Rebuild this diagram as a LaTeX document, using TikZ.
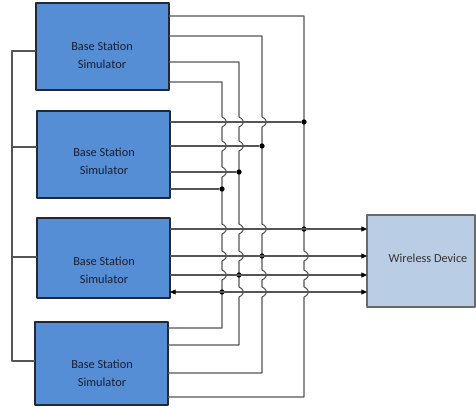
\documentclass[tikz,border=0pt]{standalone}
\usepackage{fontspec}
\setmainfont{Carlito}
\usetikzlibrary{arrows.meta}
\definecolor{bssblue}{RGB}{85,142,213}
\definecolor{bssline}{RGB}{35,40,55}
\definecolor{devblue}{RGB}{185,205,229}
\definecolor{devline}{RGB}{105,105,105}
\definecolor{wiregray}{RGB}{85,85,85}
\definecolor{txtnavy}{RGB}{25,30,50}
\tikzset{
  bss/.style={draw=bssline,fill=bssblue,line width=0.7pt,minimum width=2.66cm,inner sep=0pt,outer sep=0pt},
  dev/.style={draw=devline,fill=devblue,line width=0.7pt,minimum width=2.16cm,minimum height=1.84cm,inner sep=0pt,outer sep=0pt},
  lbl/.style={align=center,font=\fontsize{7}{10.2}\selectfont,text=txtnavy},
  wire/.style={draw=wiregray,line width=0.6pt},
  dot/.style={circle,fill=black,inner sep=0pt,minimum size=3pt},
}

\begin{document}
\begin{tikzpicture}[line join=round,>={Triangle[length=3.2pt,width=2.8pt,color=black]},x=0.02cm,y=-0.02cm]
\useasboundingbox (0,0) rectangle (476,408);
% the four simulators
\node[bss,minimum height=1.74cm] (bs1) at (102.5,46.5) {};
\node[bss,minimum height=1.74cm] (bs2) at (103.5,154.5) {};
\node[bss,minimum height=1.60cm] (bs3) at (103.5,258) {};
\node[bss,minimum height=1.66cm] (bs4) at (101.5,363.5) {};
\node[lbl] (t1) at (102,55) {Base Station\\Simulator};
\node[lbl] (t2) at (104,161) {Base Station\\Simulator};
\node[lbl] (t3) at (104,270) {Base Station\\Simulator};
\node[lbl] (t4) at (102,373) {Base Station\\Simulator};
%
\node[dev] (wd) at (421,261) {};
\node[lbl,text=black!80] (t5) at (428,258) {Wireless Device};
%
% common line on the left
\coordinate (l1) at (12,51);
\coordinate (l2) at (12,147);
\coordinate (l3) at (12,257);
\coordinate (l4) at (12,361);
\draw[wire] (bs1.west |- l1) -- (l1) -- (l4) -- (bs4.west |- l4);
\draw[wire] (l2) -- (bs2.west |- l2);
\draw[wire] (l3) -- (bs3.west |- l3);
%
% vertical lines, hopping over the crossings
\draw[wire] (bs1.east |- 0,82) -- (222,82)
  \foreach \h in {122,146,172,229,256,275} { -- (222,\h-5) .. controls (228,\h-2) and (228,\h+2) .. (222,\h+5) }
  -- (222,328) -- (bs4.east |- 0,328);
\draw[wire] (bs1.east |- 0,62) -- (239,62)
  \foreach \h in {122,146,229,256,292} { -- (239,\h-5) .. controls (245,\h-2) and (245,\h+2) .. (239,\h+5) }
  -- (239,345) -- (bs4.east |- 0,345);
\draw[wire] (bs1.east |- 0,36) -- (262,36)
  \foreach \h in {122,229,275,292} { -- (262,\h-5) .. controls (268,\h-2) and (268,\h+2) .. (262,\h+5) }
  -- (262,373) -- (bs4.east |- 0,373);
\draw[wire] (bs1.east |- 0,16) -- (304,16)
  \foreach \h in {256,275,292} { -- (304,\h-5) .. controls (310,\h-2) and (310,\h+2) .. (304,\h+5) }
  -- (304,397) -- (bs4.east |- 0,397);
%
% junctions
\node[dot] (ja1) at (222,189) {};
\node[dot] (ja2) at (222,292) {};
\node[dot] (jb1) at (239,172) {};
\node[dot] (jb2) at (239,275) {};
\node[dot] (jc1) at (262,146) {};
\node[dot] (jc2) at (262,256) {};
\node[dot] (jd1) at (304,122) {};
\node[dot] (jd2) at (304,229) {};
%
\draw[wire] (bs2.east |- jd1) -- (jd1);
\draw[wire] (bs2.east |- jc1) -- (jc1);
\draw[wire] (bs2.east |- jb1) -- (jb1);
\draw[wire] (bs2.east |- ja1) -- (ja1);
%
\draw[wire,->] (bs3.east |- jd2) -- (wd.west |- jd2);
\draw[wire,->] (bs3.east |- jc2) -- (wd.west |- jc2);
\draw[wire,->] (bs3.east |- jb2) -- (wd.west |- jb2);
\draw[wire,<->] (bs3.east |- ja2) -- (wd.west |- ja2);
\end{tikzpicture}
\end{document}
